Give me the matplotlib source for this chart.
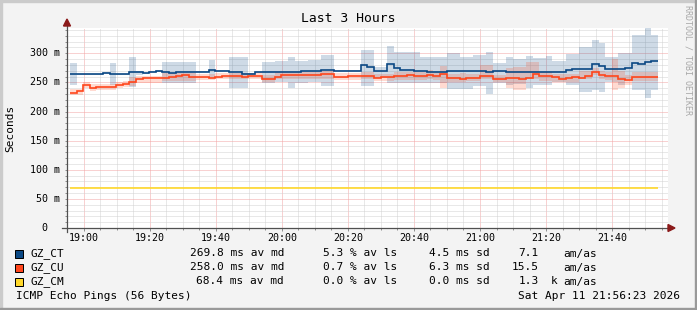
import numpy as np
import matplotlib
matplotlib.use("Agg")
import matplotlib.pyplot as plt
from matplotlib.patches import Polygon, Rectangle

plt.rcParams['font.family'] = ['DejaVu Sans Mono']

# ---- Data latency (ms), satu nilai per langkah 2 menit ----
ct_median = [264, 264, 264, 264, 264, 266, 264, 264, 264, 267,
             267, 265.5, 268, 269.5, 267, 265.5, 267, 267, 267, 268,
             268, 271, 270, 270, 268.5, 267, 264.5, 264.5, 267.5, 267.5,
             267.5, 267.5, 267.5, 268.5, 268.5, 270, 269, 270, 271, 271,
             270, 270, 270, 270, 280, 276, 270, 270, 282, 275,
             271.5, 271.5, 270, 270, 267.5, 268.5, 268.5, 269, 269, 269,
             269, 269, 269, 267.5, 269, 269, 268, 267.5, 267.5, 268.5,
             268.5, 268.5, 268.5, 268.5, 268.5, 271.5, 273, 273, 273, 281,
             278, 273, 273, 273, 275.5, 283, 281, 284.5, 286.5]
ct_hi = [284, 265, 265, 265, 265, 267, 284, 265, 265, 294,
         270, 266.5, 269, 270.5, 285.5, 285.5, 285.5, 285.5, 285.5, 269,
         269, 288.5, 271, 271, 294, 294, 294, 265.5, 268.5, 285.5,
         285.5, 287.5, 287.5, 293, 287.5, 287.5, 288.5, 288.5, 297, 297,
         271, 271, 271, 271, 306, 306, 276, 276, 312, 303,
         303, 303, 303, 294, 294, 294, 294, 301, 301, 294,
         294, 297, 297, 303, 283, 283, 294, 290, 290, 296,
         292, 292, 296, 287, 287, 298, 298, 310, 310, 323,
         317, 293, 293, 300, 300, 331, 331, 343, 331]
ct_lo = [245.5, 263, 263, 263, 263, 265, 245.5, 263, 263, 241.5,
         263, 264.5, 267, 268.5, 248.5, 248.5, 248.5, 248.5, 248.5, 267,
         267, 260, 269, 269, 240, 240, 240, 263.5, 266.5, 248.5,
         248.5, 251.5, 251.5, 240, 248.5, 248.5, 251.5, 251.5, 244.5, 244.5,
         269, 269, 269, 269, 243, 243, 258, 258, 248.5, 248.5,
         248.5, 248.5, 248.5, 248.5, 248.5, 248.5, 248.5, 238, 238, 239,
         239, 244.5, 244.5, 230, 248.5, 248.5, 246, 248, 248, 240,
         245, 245, 245, 250, 250, 246, 246, 234, 234, 237,
         234, 250, 250, 245, 255, 237, 237, 224, 237]

cu_median = [232, 235.5, 245, 240, 241.5, 242.5, 241.5, 245, 247, 251.5,
             255.5, 257, 257, 257, 257, 259, 261, 263, 259, 259,
             259, 257, 259, 261.5, 261.5, 261.5, 260, 261.5, 261.5, 256.5,
             256.5, 260, 263, 263, 263, 263, 263, 263, 264.5, 264.5,
             260, 260, 261, 261, 261, 261, 257, 258.5, 260, 261.5,
             261.5, 263.5, 261.5, 261, 263, 261, 264, 258, 258, 256,
             258, 258, 261.5, 261.5, 256.5, 256.5, 258, 257, 256, 258,
             265, 261, 261, 259, 256, 257, 259.5, 258, 261, 268.5,
             263, 261, 261, 256, 254, 259, 259, 259, 259]
cu_hi = [238, 238, 251, 247, 248, 248, 248, 250, 252, 260,
         261, 261, 261, 261, 266, 266, 266, 266, 266, 265,
         265, 265, 266, 266, 266, 266, 266, 266, 266, 263,
         263, 268, 268, 268, 268, 268, 268, 268, 270, 270,
         266, 266, 266, 266, 268, 268, 265, 265, 265, 268,
         268, 268, 268, 268, 272, 268, 278, 265, 265, 266,
         265, 265, 280, 280, 263, 263, 274, 277, 277, 285,
         285, 268, 268, 265, 265, 265, 265, 270, 270, 275,
         270, 268, 291, 270, 262, 268, 268, 268, 268]
cu_lo = [228, 228, 240, 236, 237, 237, 237, 240, 242, 243,
         249, 249, 249, 249, 252, 252, 252, 252, 252, 254,
         254, 254, 255, 255, 255, 255, 255, 255, 255, 251,
         251, 256, 256, 256, 256, 256, 256, 256, 255, 255,
         254, 254, 254, 254, 255, 255, 252, 252, 252, 254,
         254, 254, 254, 254, 255, 254, 240, 250, 250, 250,
         252, 252, 255, 255, 250, 250, 240, 237, 237, 255,
         255, 252, 252, 250, 250, 250, 250, 255, 255, 262,
         256, 254, 237, 240, 245, 252, 252, 252, 252]

cm_median = 68.4

# waktu dalam menit sejak 18:00
t_awal = 55.9
t_step = 2.0
x_ticks = [60, 80, 100, 120, 140, 160, 180, 200, 220]
x_labels = ['19:00', '19:20', '19:40', '20:00', '20:20', '20:40', '21:00', '21:20', '21:40']
y_ticks = [0, 50, 100, 150, 200, 250, 300]
y_labels = ['0', '50 m', '100 m', '150 m', '200 m', '250 m', '300 m']

# legenda
nama = ['GZ_CT', 'GZ_CU', 'GZ_CM']
warna = ['#0b4884', '#ff461c', '#ffd82a']
med_txt = ['269.8 ms av md', '258.0 ms av md', '68.4 ms av md']
loss_txt = ['5.3 % av ls', '0.7 % av ls', '0.0 % av ls']
sd_txt = ['4.5 ms sd', '6.3 ms sd', '0.0 ms sd']
amas_num = ['7.1', '15.5', '1.3']
amas_unit = ['', '', 'k']

W, H = 697, 310
fig = plt.figure(figsize=(W / 100, H / 100), dpi=100, facecolor='#f3f3f3')


def fx(x):
    return x / W


def fy(y):
    return 1 - y / H


ax = fig.add_axes([fx(67), fy(228), 601 / W, 200 / H])
ax.set_facecolor('white')
ax.set_xlim(56.7, 236.9)
ax.set_ylim(0, 343.4)

edges = t_awal + t_step * np.arange(len(ct_median) + 1)

# smoke band
ax.stairs(ct_hi, edges, baseline=ct_lo, fill=True, color=warna[0], alpha=0.2, lw=0)
ax.stairs(cu_hi, edges, baseline=cu_lo, fill=True, color=warna[1], alpha=0.2, lw=0)
# garis median
ax.stairs(ct_median, edges, baseline=None, color=warna[0], lw=1.2)
ax.stairs(cu_median, edges, baseline=None, color=warna[1], lw=1.2)
ax.hlines(cm_median, edges[0], edges[-1], color=warna[2], lw=1.2)

# grid
ax.set_xticks(x_ticks)
ax.set_xticklabels(x_labels, fontsize=7.2)
ax.set_xticks(np.arange(55, 240, 5), minor=True)
ax.set_yticks(y_ticks)
ax.set_yticklabels([])
ax.set_yticks(np.arange(0, 344, 10), minor=True)
ax.grid(which='minor', color='#d2d2d2', lw=0.72, linestyle=(0, (1, 1)))
ax.grid(which='major', color='#f2a4a4', lw=0.72, linestyle=(0, (1, 1)))
ax.set_axisbelow(True)
ax.tick_params(which='both', direction='out', width=0.72, color='#909090')
ax.tick_params(which='major', length=1.8, pad=2)
ax.tick_params(which='minor', length=1.2)
for s in ax.spines.values():
    s.set_visible(False)

for v, lab in zip(y_ticks, y_labels):
    if lab.endswith('m'):
        ax.text(-7 / 601, v, lab, transform=ax.get_yaxis_transform(),
                ha='right', va='center', fontsize=7.2)
    else:
        ax.text(-20 / 601, v, lab, transform=ax.get_yaxis_transform(),
                ha='right', va='center', fontsize=7.2)

# sumbu dan panah
ax.plot([-5 / 601, 605 / 601], [0, 0], transform=ax.transAxes,
        color='#505050', lw=0.9, clip_on=False)
ax.plot([0, 0], [-4 / 200, 204 / 200], transform=ax.transAxes,
        color='#505050', lw=0.9, clip_on=False)
fig.add_artist(Polygon([(fx(67), fy(19)), (fx(63.5), fy(26)), (fx(70.5), fy(26))],
                       closed=True, color='#8b1a1a', transform=fig.transFigure))
fig.add_artist(Polygon([(fx(675), fy(228)), (fx(668), fy(224.5)), (fx(668), fy(231.5))],
                       closed=True, color='#8b1a1a', transform=fig.transFigure))

# judul dan label
fig.text(fx(348), fy(19), 'Last 3 Hours', ha='center', va='center', fontsize=9.4)
fig.text(fx(10), fy(128), 'Seconds', rotation=90, ha='center', va='center', fontsize=8)
fig.text(fx(688), fy(60), 'RRDTOOL / TOBI OETIKER', rotation=-90, ha='center',
         va='center', fontsize=6, color='#a8a8a8')

# legenda
baris_y = [253.5, 267.5, 281.5]
for i in range(3):
    yy = baris_y[i]
    fig.add_artist(Rectangle((fx(15), fy(yy + 4)), 8 / W, 8 / H, facecolor=warna[i],
                             edgecolor='black', lw=0.72, transform=fig.transFigure))
    fig.text(fx(30), fy(yy), nama[i], ha='left', va='center', fontsize=8)
    fig.text(fx(284), fy(yy), med_txt[i], ha='right', va='center', fontsize=8)
    fig.text(fx(397), fy(yy), loss_txt[i], ha='right', va='center', fontsize=8)
    fig.text(fx(490), fy(yy), sd_txt[i], ha='right', va='center', fontsize=8)
    fig.text(fx(538.5), fy(yy), amas_num[i], ha='right', va='center', fontsize=8)
    if amas_unit[i]:
        fig.text(fx(551), fy(yy), amas_unit[i], ha='left', va='center', fontsize=8)
    fig.text(fx(563.3), fy(yy), 'am/as', ha='left', va='center', fontsize=8)

fig.text(fx(16), fy(296), 'ICMP Echo Pings (56 Bytes)', ha='left', va='center', fontsize=8)
fig.text(fx(680), fy(296), 'Sat Apr 11 21:56:23 2026', ha='right', va='center', fontsize=8)

# bingkai
fig.add_artist(Rectangle((0, fy(2)), 1, 2 / H, color='#cbcbcb', transform=fig.transFigure))
fig.add_artist(Rectangle((0, 0), 2 / W, 1, color='#cbcbcb', transform=fig.transFigure))
fig.add_artist(Rectangle((0, 0), 1, 2 / H, color='#999999', transform=fig.transFigure))
fig.add_artist(Rectangle((fx(695), 0), 2 / W, 1, color='#999999', transform=fig.transFigure))

fig.savefig('out.png', dpi=100, facecolor=fig.get_facecolor())
